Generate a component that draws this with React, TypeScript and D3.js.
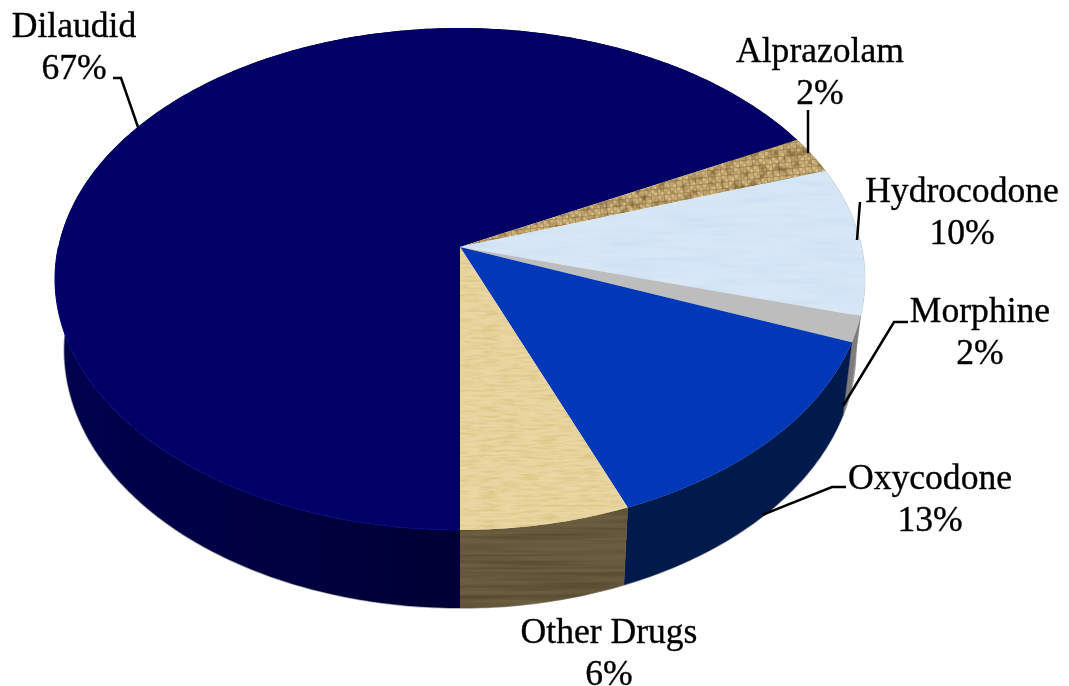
import React from "react";
import * as d3 from "d3";

const names = ["Dilaudid", "Alprazolam", "Hydrocodone", "Morphine", "Oxycodone", "Other Drugs"];
const shares = [67.4, 2.4, 9.55, 1.65, 13, 6];
const percentLabels = ["67%", "2%", "10%", "2%", "13%", "6%"];
const topFills = ["#000066", "url(#burlap)", "#d8e7f6", "#bdbdbd", "#0038b8", "#e9d6a2"];
const topFilters = ["", "url(#weave)", "url(#cloud)", "", "", "url(#paper)"];
const wallFills = ["url(#wallNavy)", "#8c7a52", "#9aa4ae", "#7d7d7d", "#001a4c", "#6b5d3f"];
const wallFilters = ["", "", "", "", "", "url(#streak)"];
const labelCentres = [74, 820, 962, 980, 930, 609];
const labelBaselines = [37, 62, 202, 322, 489, 643];
const leaders: [number, number][][] = [
  [[113, 78], [121, 78], [138, 127]],
  [[808, 110], [808, 153]],
  [[860, 202], [857, 240]],
  [[908, 322], [894, 322], [843, 406]],
  [[846, 487], [832, 487], [762, 515]],
];

const W = 1069;
const H = 686;
const apexX = 460;
const apexY = 247;
const persp = 0.1275;
const xScale = d3.scaleLinear().domain([-1, 1]).range([apexX - 401.7, apexX + 401.7]);
const yScale = d3.scaleLinear().domain([-1, 1]).range([apexY - 246.9, apexY + 246.9]);
const lowerX = d3.scaleLinear().domain([apexX - 100, apexX + 100]).range([apexX - 97.7, apexX + 97.7]);

const pie = d3.pie<number>().sort(null).startAngle(Math.PI).endAngle(3 * Math.PI);
const arcs = pie(shares);

function top(a: number): [number, number] {
  const u = Math.sin(a);
  const v = -Math.cos(a);
  const w = 1 - persp * v;
  return [xScale(u / w), yScale(v / w)];
}
function low(a: number): [number, number] {
  const [x, y] = top(a);
  const v = -Math.cos(a);
  return [lowerX(x), y + 70 + 8 * v];
}
const samples = (a0: number, a1: number) => {
  const n = Math.max(4, Math.ceil((a1 - a0) * 80));
  return d3.range(n + 1).map((i) => a0 + ((a1 - a0) * i) / n);
};
const line = d3.line<[number, number]>();
const closed = (pts: [number, number][]) => (line(pts) ?? "") + "Z";

const lowerRim = line(samples(Math.PI * 0.5, Math.PI * 1.5).map(low)) ?? "";

function noise(id: string, freq: string, rgb: string, slope: number, offset: number, seed: number, octaves = 3) {
  const c = rgb.split(" ");
  return (
    <filter id={id} x="0" y="0" width="1" height="1" colorInterpolationFilters="sRGB">
      <feTurbulence type="fractalNoise" baseFrequency={freq} numOctaves={octaves} seed={seed} result="n" />
      <feColorMatrix in="n" type="matrix" values={`0 0 0 0 ${c[0]} 0 0 0 0 ${c[1]} 0 0 0 0 ${c[2]} ${slope} 0 0 0 ${offset}`} result="c" />
      <feComposite in="c" in2="SourceAlpha" operator="in" result="t" />
      <feMerge>
        <feMergeNode in="SourceGraphic" />
        <feMergeNode in="t" />
      </feMerge>
    </filter>
  );
}

export default function App() {
  const font = '"Liberation Serif", "Times New Roman", serif';
  return (
    <svg width={W} height={H} viewBox={`0 0 ${W} ${H}`} style={{ position: "absolute", left: 0, top: 0, background: "#fff" }}>
      <defs>
        {noise("paper", "0.05 0.4", "0.8 0.68 0.35", 1.0, -0.42, 4)}
        {noise("cloud", "0.015 0.14", "0.76 0.86 0.95", 1.3, -0.55, 7)}
        {noise("streak", "0.006 0.2", "0.25 0.2 0.1", 1.1, -0.42, 2)}
        {noise("weave", "0.12 0.12", "0.35 0.25 0.1", 1.4, -0.6, 9, 2)}
        <filter id="soft" x="-5%" y="-5%" width="110%" height="110%">
          <feGaussianBlur stdDeviation="0.5" />
        </filter>
        <pattern id="burlap" patternUnits="userSpaceOnUse" width="6.5" height="6.5" patternTransform="rotate(-6)">
          <rect width="6.5" height="6.5" fill="#c3a66e" />
          <rect x="0.5" y="0.5" width="2.6" height="2.6" fill="#dcc592" />
          <rect x="3.8" y="3.8" width="2.6" height="2.6" fill="#d6bc85" />
          <path d="M0 3.3H6.5M3.3 0V6.5" stroke="#9a7f4c" strokeWidth="0.7" />
        </pattern>
        <linearGradient id="wallNavy" gradientUnits="userSpaceOnUse" x1="55" y1="0" x2="460" y2="0">
          <stop offset="0" stopColor="#00004e" />
          <stop offset="1" stopColor="#000035" />
        </linearGradient>
      </defs>

      <path d={lowerRim} fill="none" stroke="#a0a0a0" strokeWidth="1.6" />
      <g>
        {arcs.map((d, i) => {
          const as = samples(d.startAngle, d.endAngle);
          const pts = [...as.map(top), ...as.slice().reverse().map(low)];
          return (
            <path key={names[i]} d={closed(pts)} fill={wallFills[i]} filter={wallFilters[i] || undefined} stroke={i === 0 ? "none" : wallFills[i]} strokeWidth="0.4" />
          );
        })}
      </g>
      <g>
        {arcs.map((d, i) => {
          const pts: [number, number][] = [[apexX, apexY], ...samples(d.startAngle, d.endAngle).map(top)];
          return <path key={names[i]} d={closed(pts)} fill={topFills[i]} filter={topFilters[i] || undefined} />;
        })}
        <path d={line(samples(Math.PI, Math.PI * 1.5).map(top)) ?? ""} fill="none" stroke="#000a80" strokeWidth="1" />
      </g>

      <g fill="none" stroke="#000" strokeWidth="2.5" filter="url(#soft)">
        {leaders.map((pts, i) => (
          <path key={i} d={line(pts) ?? ""} />
        ))}
      </g>

      <g filter="url(#soft)" fontFamily={font} fontSize="35.6" fill="#000" stroke="#000" strokeWidth="0.35" textAnchor="middle">
        {names.map((n, i) => (
          <text key={n} x={labelCentres[i]} y={labelBaselines[i]}>
            <tspan x={labelCentres[i]}>{n}</tspan>
            <tspan x={labelCentres[i]} dy="41.5">{percentLabels[i]}</tspan>
          </text>
        ))}
      </g>
    </svg>
  );
}
